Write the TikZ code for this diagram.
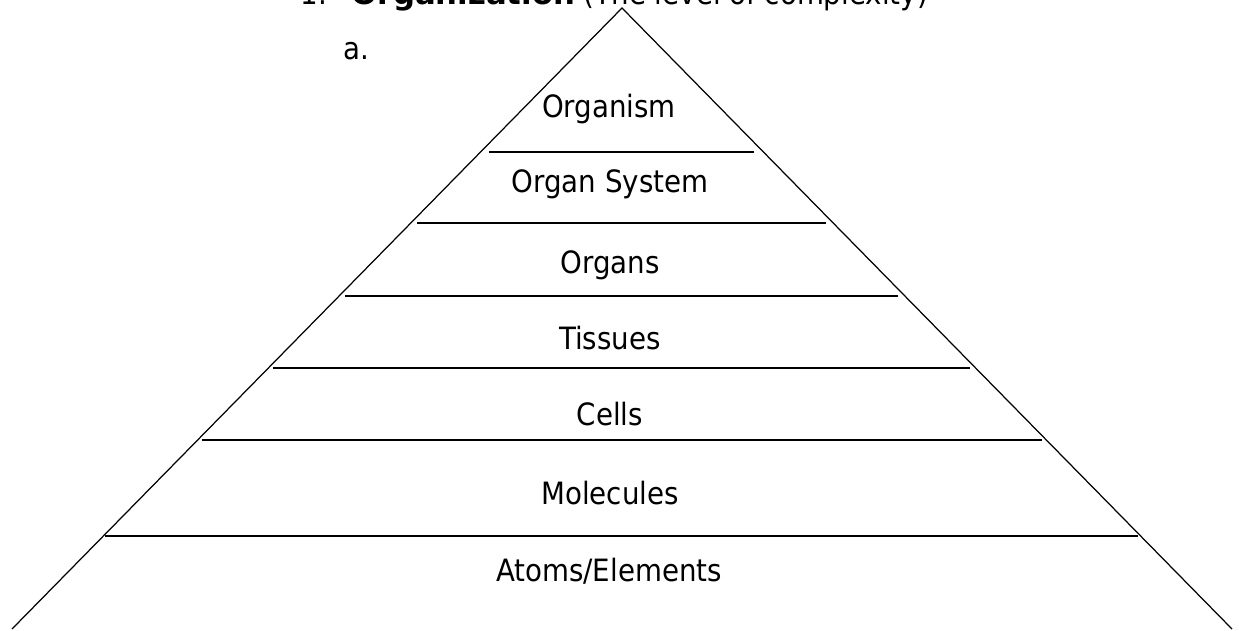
\documentclass[tikz,border=0pt]{standalone}
\usepackage{fontspec}
\setmainfont{DejaVu Sans Condensed}
\newfontfamily\widefont{DejaVu Sans}
\usepackage{tikz}

\tikzset{level/.style={font=\fontsize{17.5}{20}\selectfont,anchor=base,inner sep=0}}

\begin{document}
\begin{tikzpicture}[x=0.02cm,y=-0.02cm,line width=0.9pt]
\useasboundingbox (0,0) rectangle (1241,630);

\node[level,anchor=base west] (title) at (300,4) {1.\hspace{0.8em}{\widefont\bfseries Organization} (The level of complexity)};
\node[level,anchor=base west] (item) at (343,59) {a.};

\draw[line width=0.7pt] (12,629) -- (622,8) -- (1232,629);

\draw (489,152) -- (754,152);
\draw (417,223) -- (826,223);
\draw (345,296) -- (898,296);
\draw (273,368) -- (970,368);
\draw (202,440) -- (1042,440);
\draw (105,536) -- (1138,536);

\node[level] (organism) at (609,117) {Organism};
\node[level] (system) at (610,192) {Organ System};
\node[level] (organs) at (610,273) {Organs};
\node[level] (tissues) at (610,349) {Tissues};
\node[level] (cells) at (610,425) {Cells};
\node[level] (molecules) at (610,504) {Molecules};
\node[level] (atoms) at (609,581) {Atoms/Elements};
\end{tikzpicture}
\end{document}
